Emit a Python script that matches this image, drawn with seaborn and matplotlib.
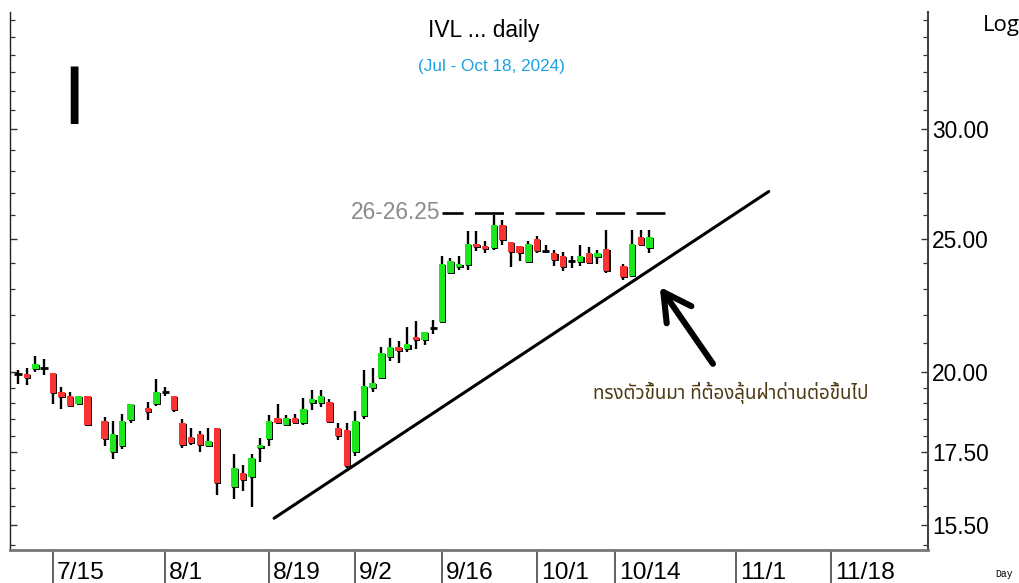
import numpy as np
import pandas as pd
import matplotlib
matplotlib.use("Agg")
import matplotlib.pyplot as plt
import seaborn as sns
from matplotlib import font_manager as fm
from matplotlib.ft2font import FT2Font
from matplotlib.ticker import FixedLocator, FuncFormatter, NullFormatter
from matplotlib.transforms import ScaledTranslation, blended_transform_factory

# ---------------- data ----------------
dates = ["2024-07-09", "2024-07-10", "2024-07-11", "2024-07-12", "2024-07-15", "2024-07-16",
         "2024-07-17", "2024-07-18", "2024-07-19", "2024-07-23", "2024-07-24", "2024-07-25",
         "2024-07-26", "2024-07-30", "2024-07-31", "2024-08-01", "2024-08-02", "2024-08-05",
         "2024-08-06", "2024-08-07", "2024-08-08", "2024-08-09", "2024-08-13", "2024-08-14",
         "2024-08-15", "2024-08-16", "2024-08-19", "2024-08-20", "2024-08-21", "2024-08-22",
         "2024-08-23", "2024-08-26", "2024-08-27", "2024-08-28", "2024-08-29", "2024-08-30",
         "2024-09-02", "2024-09-03", "2024-09-04", "2024-09-05", "2024-09-06", "2024-09-09",
         "2024-09-10", "2024-09-11", "2024-09-12", "2024-09-13", "2024-09-16", "2024-09-17",
         "2024-09-18", "2024-09-19", "2024-09-20", "2024-09-23", "2024-09-24", "2024-09-25",
         "2024-09-26", "2024-09-27", "2024-09-30", "2024-10-01", "2024-10-02", "2024-10-03",
         "2024-10-04", "2024-10-07", "2024-10-08", "2024-10-09", "2024-10-10", "2024-10-11",
         "2024-10-15", "2024-10-16", "2024-10-17", "2024-10-18"]
opens = [19.95, 19.95, 20.10, 20.14, 19.97, 19.37, 19.23, 18.97, 19.23, 18.44, 17.50, 17.68,
         18.47, 18.85, 18.97, 19.35, 19.23, 18.37, 17.96, 18.04, 17.69, 18.24, 16.51, 16.92,
         16.81, 17.62, 17.91, 18.53, 18.31, 18.53, 18.39, 18.99, 18.99, 19.04, 18.24, 18.16,
         17.50, 18.60, 19.50, 19.80, 20.53, 20.85, 20.80, 21.23, 21.12, 21.53, 21.75, 23.61,
         23.84, 23.94, 24.78, 24.69, 24.62, 25.56, 24.85, 24.69, 24.03, 24.99, 24.50, 24.43,
         24.30, 24.07, 24.04, 24.43, 24.23, 24.56, 23.90, 23.49, 25.07, 24.62]
highs = [20.07, 20.14, 20.57, 20.45, 19.97, 19.53, 19.37, 19.23, 19.23, 18.56, 18.44, 18.66,
         18.96, 19.04, 19.77, 19.53, 19.23, 18.51, 18.24, 18.14, 18.24, 18.24, 17.45, 17.15,
         17.45, 17.94, 18.63, 18.96, 18.63, 18.66, 19.15, 19.42, 19.42, 19.13, 18.37, 18.37,
         18.75, 20.08, 20.14, 20.86, 21.18, 21.06, 21.57, 21.78, 21.38, 21.84, 24.27, 24.20,
         24.27, 25.33, 25.33, 24.90, 26.00, 25.80, 24.85, 24.69, 24.90, 25.10, 24.73, 24.53,
         24.47, 24.30, 24.73, 24.64, 24.53, 25.36, 23.98, 25.36, 25.36, 25.36]
lows = [19.62, 19.60, 20.03, 19.90, 18.97, 18.81, 18.90, 18.97, 18.31, 17.68, 17.31, 17.59,
        18.37, 18.47, 18.90, 19.23, 18.71, 17.62, 17.71, 17.50, 17.69, 16.29, 16.20, 16.41,
        15.98, 17.23, 17.68, 18.34, 18.31, 18.34, 18.31, 18.78, 18.88, 18.37, 17.88, 17.05,
        17.40, 18.50, 19.35, 19.80, 20.40, 20.31, 20.70, 20.80, 20.93, 21.32, 21.75, 23.61,
        23.71, 23.71, 24.50, 24.42, 24.55, 24.72, 23.84, 24.07, 24.00, 24.42, 24.42, 23.87,
        23.67, 23.82, 23.87, 24.02, 23.95, 23.60, 23.32, 23.45, 24.72, 24.42]
closes = [19.95, 19.80, 20.27, 20.14, 19.32, 19.20, 18.90, 19.23, 18.31, 17.91, 18.04, 18.44,
          18.96, 18.71, 19.37, 19.35, 18.78, 17.71, 17.79, 17.71, 17.83, 16.62, 17.04, 16.70,
          17.35, 17.73, 18.44, 18.39, 18.53, 18.39, 18.83, 19.13, 19.23, 18.40, 18.00, 17.10,
          18.44, 19.55, 19.66, 20.66, 20.85, 20.73, 20.97, 21.12, 21.38, 21.53, 23.98, 24.07,
          23.98, 24.78, 24.65, 24.56, 25.56, 24.96, 24.45, 24.42, 24.78, 24.51, 24.50, 24.14,
          23.84, 24.07, 24.30, 24.02, 24.43, 23.70, 23.44, 24.78, 24.72, 25.07]

tick_dates = ["2024-07-15", "2024-08-01", "2024-08-19", "2024-09-02", "2024-09-16",
              "2024-10-01", "2024-10-14", "2024-11-01", "2024-11-18"]
tick_labels = ["7/15", "8/1", "8/19", "9/2", "9/16", "10/1", "10/14", "11/1", "11/18"]
price_ticks = [15.5, 17.5, 20.0, 25.0, 30.0]
minor_ticks = [15.0, 16.0, 16.5, 17.0, 18.0, 18.5, 19.0, 19.5, 21.0, 22.0, 23.0, 24.0,
               26.0, 27.0, 28.0, 29.0, 31.0, 32.0, 33.0, 34.0, 35.0, 36.0]

resistance_level = 26.1
resistance_span = ["2024-09-16", "2024-10-23"]
trend_dates = ["2024-08-19", "2024-11-06"]
trend_shift = [0.6, 0.8]
trend_prices = [15.68, 27.05]

title = "IVL ... daily"
subtitle = "(Jul - Oct 18, 2024)"
level_label = "26-26.25"
note = "ทรงตัวขึ้นมา ที่ต้องลุ้นฝ่าด่านต่อขึ้นไป"

# ---------------- fonts ----------------
avail = {f.name for f in fm.fontManager.ttflist}


def pick(*names):
    for n in names:
        if n in avail:
            return n
    return "DejaVu Sans"


NARROW = pick("Liberation Sans Narrow", "Arial Narrow")
narrow_ok = NARROW != "DejaVu Sans"
if not narrow_ok:
    NARROW = pick("Liberation Sans", "DejaVu Sans")
NS = 1.0 if narrow_ok else 0.82


def has_char(path, ch):
    try:
        return ord(ch) in FT2Font(path).get_charmap()
    except Exception:
        return False


thai_font = None
for pref in ["Noto Sans Thai", "Noto Sans Thai UI", "Loma", "Garuda", "Tahoma", "Norasi"]:
    if pref in avail:
        thai_font = pref
        break
if thai_font is None:
    for f in fm.fontManager.ttflist:
        if has_char(f.fname, "ท"):
            thai_font = f.name
            break

sns.set_theme(style="white")
plt.rcParams["font.family"] = [NARROW, "DejaVu Sans"]

GREEN = "#1ee61e"
RED = "#fa3232"

# ---------------- frame ----------------
df = pd.DataFrame({"date": pd.to_datetime(dates), "open": opens, "high": highs,
                   "low": lows, "close": closes})
bdays = pd.bdate_range("2024-07-09", "2024-11-29")
pos = {d: i for i, d in enumerate(bdays)}
df["x"] = df["date"].map(pos)

fig = plt.figure(figsize=(10.2, 5.83), dpi=100)
W, H = 1020, 583
ax = fig.add_axes([10 / W, 33 / H, 918 / W, 538 / H])
ax.set_facecolor("white")
ax.set_yscale("log")
ax.set_xlim(-0.94, 105.22)
ax.set_ylim(14.87, 36.5)

# wicks
ax.vlines(df["x"], df["low"], df["high"], color="black", lw=1.7, zorder=2)

# bodies with a dark shadow
shadow = ScaledTranslation(1.2 / 100, -1.0 / 100, fig.dpi_scale_trans)
for sel, col in [(df["close"] > df["open"], GREEN), (df["close"] < df["open"], RED)]:
    d = df[sel]
    bottoms = np.minimum(d["open"], d["close"])
    heights = (d["close"] - d["open"]).abs()
    ax.bar(d["x"], heights, bottom=bottoms, width=0.74, color="#111111",
           transform=ax.transData + shadow, zorder=3, linewidth=0)
    ax.bar(d["x"], heights, bottom=bottoms, width=0.74, color=col, zorder=4, linewidth=0)
flat = df[df["close"] == df["open"]]
ax.hlines(flat["open"], flat["x"] - 0.42, flat["x"] + 0.42, color="black", lw=2.0, zorder=4)

# trend line & resistance
trend = pd.DataFrame({"x": [pos[pd.Timestamp(d)] + s for d, s in zip(trend_dates, trend_shift)],
                      "y": trend_prices})
sns.lineplot(data=trend, x="x", y="y", ax=ax, color="black", lw=2.2, zorder=5)
res = pd.DataFrame({"x": [pos[pd.Timestamp(resistance_span[0])],
                          pos[pd.Timestamp(resistance_span[1])] + 0.1],
                    "y": [resistance_level] * 2})
sns.lineplot(data=res, x="x", y="y", ax=ax, color="black", lw=1.9, zorder=5,
             linestyle=(3.0, (11.0, 4.3)))
ax.text(res["x"].iloc[0] - 0.2, resistance_level, level_label, ha="right", va="center",
        fontsize=20 * NS, color="#8c8c8c", family=[NARROW, "DejaVu Sans"])

# arrow
ax.annotate("", xy=(74.2, 23.07), xytext=(80.35, 20.29),
            arrowprops=dict(arrowstyle="->,head_length=1.1,head_width=0.6", lw=4.4,
                            color="black", mutation_scale=18, shrinkA=0, shrinkB=0),
            zorder=6)
thai_fam = [thai_font, "DejaVu Sans"] if thai_font else ["DejaVu Sans"]
ax.text(66.5, 19.32, note, ha="left", va="center", fontsize=13.5, color="#4e3a12",
        family=thai_fam)

# axes styling
ax.spines["top"].set_visible(False)
ax.spines["left"].set_color("#222222")
ax.spines["left"].set_linewidth(1.0)
ax.spines["right"].set_color("#444444")
ax.spines["right"].set_linewidth(1.5)
ax.spines["bottom"].set_color("#777777")
ax.spines["bottom"].set_linewidth(2.0)

ax.yaxis.set_major_locator(FixedLocator(price_ticks))
ax.yaxis.set_major_formatter(FuncFormatter(lambda v, p: f"{v:.2f}"))
ax.yaxis.set_minor_locator(FixedLocator(minor_ticks))
ax.yaxis.set_minor_formatter(NullFormatter())
ax.tick_params(axis="y", which="both", left=True, right=True, direction="in",
               labelleft=False, labelright=True, color="#333333")
ax.tick_params(axis="y", which="major", length=5, width=1.0, pad=3,
               labelsize=20 * NS, labelcolor="black")
ax.tick_params(axis="y", which="minor", length=3.5, width=0.9)

tick_x = [pos[pd.Timestamp(d)] for d in tick_dates]
ax.set_xticks(tick_x)
ax.set_xticklabels([])
ax.tick_params(axis="x", which="major", bottom=True, direction="out", length=25,
               width=1.3, color="#555555", labelbottom=False)
ax.set_xlabel("")
ax.set_ylabel("")
bt = blended_transform_factory(ax.transData, ax.transAxes)
lab_off = ScaledTranslation(4 / 100, -12 / 100, fig.dpi_scale_trans)
for tx, tl in zip(tick_x, tick_labels):
    ax.text(tx, 0, tl, transform=bt + lab_off, ha="left", va="top",
            fontsize=21.5 * NS, color="black", clip_on=False)

# titles & decorations
fig.text(484 / W, 1 - 30 / H, title, ha="center", va="center", fontsize=20 * NS, color="black")
fig.text(491 / W, 1 - 67 / H, subtitle, ha="center", va="center", fontsize=15 * NS,
         color="#1ba1e4")
fig.text(74 / W, 1 - 124 / H, "I", ha="center", va="baseline", fontsize=60,
         family=["Liberation Sans", "DejaVu Sans"], color="black")
fig.text(983 / W, 1 - 25 / H, "Log", ha="left", va="center", fontsize=16,
         family=["Open Sans", "DejaVu Sans"], color="black")
fig.text(995 / W, 1 - 574 / H, "Day", ha="left", va="center", fontsize=7,
         family=["Liberation Mono", "DejaVu Sans Mono"], color="black")

fig.savefig("out.png", dpi=100, facecolor="white")
